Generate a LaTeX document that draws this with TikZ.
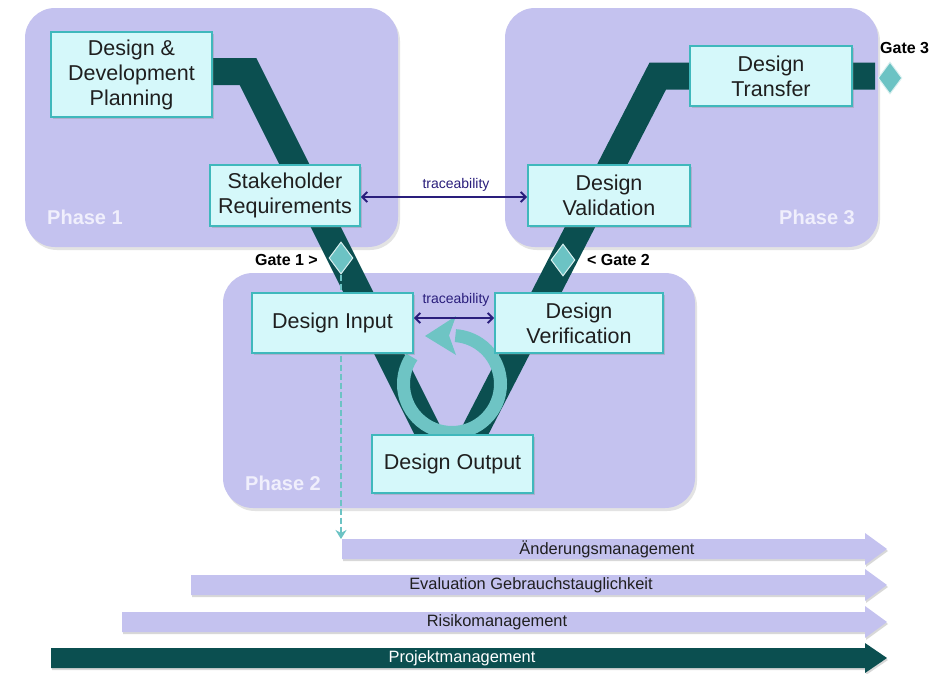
\documentclass[tikz,border=0pt]{standalone}
\usepackage{fontspec}
\setmainfont{Liberation Sans}
\usetikzlibrary{shapes.geometric,arrows.meta,shadows}

\definecolor{phasefill}{HTML}{C4C2EF}
\definecolor{boxfill}{HTML}{D5F8FA}
\definecolor{boxline}{HTML}{3FB8BC}
\definecolor{bandcol}{HTML}{0B4F50}
\definecolor{gatefill}{HTML}{6CC3C4}
\definecolor{loopcol}{HTML}{6EC4C4}
\definecolor{navy}{HTML}{2A1E7C}
\definecolor{textcol}{HTML}{1F1F1F}
\definecolor{phasetext}{HTML}{F0EFFC}

\begin{document}
\begin{tikzpicture}[x=1pt,y=-1pt,
  phase/.style={fill=phasefill, rounded corners=30pt, inner sep=0pt,
    drop shadow={shadow xshift=2pt, shadow yshift=-3pt, opacity=0.22}},
  stepbox/.style={draw=boxline, line width=1.8pt, fill=boxfill, align=center,
    inner sep=0pt, text=textcol, font=\fontsize{21.5}{25}\selectfont,
    drop shadow={shadow xshift=2pt, shadow yshift=-2pt, opacity=0.3}},
  band/.style={draw=bandcol, line width=27pt, line join=miter},
  gate/.style={diamond, fill=gatefill, draw=white!75!gatefill, line width=1pt,
    inner sep=0pt, minimum width=24pt, minimum height=32pt},
  gatelabel/.style={font=\fontsize{16}{18}\selectfont\bfseries, text=black, inner sep=0pt},
  phaselabel/.style={font=\fontsize{20}{22}\selectfont\bfseries, text=phasetext, inner sep=0pt},
  trace/.style={draw=navy, line width=2pt, {Straight Barb[length=5pt,width=10pt]}-{Straight Barb[length=5pt,width=10pt]}},
  tracelabel/.style={font=\fontsize{14}{16}\selectfont, text=navy, inner sep=0pt},
  mgmt/.style={fill=phasefill, drop shadow={shadow xshift=1pt, shadow yshift=-2pt, opacity=0.3}},
  mgmtdark/.style={fill=bandcol, drop shadow={shadow xshift=1pt, shadow yshift=-2pt, opacity=0.3}},
  mgmtlabel/.style={font=\fontsize{16.4}{18}\selectfont, text=textcol, inner sep=0pt},
  dashline/.style={draw=gatefill, line width=2.5pt, dash pattern=on 6pt off 3pt,
    -{Stealth[length=9pt,width=11pt]}}
]
\useasboundingbox (0,0) rectangle (930,673);
\fill[white] (0,0) rectangle (930,673);

% phase regions
\node[phase, minimum width=373pt, minimum height=239pt] (p1) at (211.5,127.5) {};
\node[phase, minimum width=373pt, minimum height=239pt] (p3) at (691.5,127.5) {};
\node[phase, minimum width=472pt, minimum height=235pt] (p2) at (459,390.5) {};

% the V-shaped process band
\draw[band] (205,71.5) -- (248,71.5) -- (451,477.5);
\draw[band] (451,477.5) -- (657.8,76) -- (875,76);

% gates
\node[gate] (g1) at (341,258) {};
\node[gate] (g2) at (563,260) {};
\node[gate] (g3) at (890,78) {};

% iteration loop
\draw[loopcol, line width=13pt] (452,384) ++(214:48.5) arc[start angle=214, end angle=-86, radius=48.5];
\fill[loopcol] (425,336) -- (456,316) -- (449,335.5) -- (456,355) -- cycle;

% change-management link from gate 1
\coordinate (chgtop) at (341,539);
\draw[dashline] (g1.south) -- (g1.south |- chgtop);

% process steps
\node[stepbox, minimum width=161pt, minimum height=85pt] (ddp) at (131.5,74.5) {Design \&\\Development\\Planning};
\node[stepbox, minimum width=150pt, minimum height=61pt] (stake) at (285,195.5) {Stakeholder\\Requirements};
\node[stepbox, minimum width=162pt, minimum height=61pt] (valid) at (609,195.5) {Design\\Validation};
\node[stepbox, minimum width=162pt, minimum height=60pt] (transfer) at (771,76) {Design\\Transfer};
\node[stepbox, minimum width=161pt, minimum height=60pt] (input) at (332.5,323) {Design Input};
\node[stepbox, minimum width=168pt, minimum height=60pt] (verif) at (579,323) {Design\\Verification};
\node[stepbox, minimum width=161pt, minimum height=58pt] (output) at (452.5,464) {Design Output};

% traceability links
\draw[trace] ([yshift=-1.5pt]stake.east) -- ([yshift=-1.5pt]valid.west);
\node[tracelabel] (tr1) at (456,185) {traceability};
\draw[trace] ([yshift=5pt]input.east) -- ([yshift=5pt]verif.west);
\node[tracelabel] (tr2) at (456,300) {traceability};

% gate and phase labels
\node[gatelabel, anchor=east] (g1l) at (318,260) {Gate 1 >};
\node[gatelabel, anchor=west] (g2l) at (587,260) {< Gate 2};
\node[gatelabel, anchor=west] (g3l) at (880,48) {Gate 3};
\node[phaselabel, anchor=west] (p1l) at (47,217) {Phase 1};
\node[phaselabel, anchor=east] (p3l) at (855,217) {Phase 3};
\node[phaselabel, anchor=west] (p2l) at (245,483) {Phase 2};

% accompanying management processes
\path[mgmt] (342,539) -- (865,539) -- (865,533) -- (887,549) -- (865,565) -- (865,559) -- (342,559) -- cycle;
\path[mgmt] (191,575) -- (865,575) -- (865,569) -- (887,585) -- (865,601) -- (865,595) -- (191,595) -- cycle;
\path[mgmt] (122,612) -- (865,612) -- (865,606) -- (887,622) -- (865,638) -- (865,632) -- (122,632) -- cycle;
\path[mgmtdark] (51,648) -- (865,648) -- (865,643) -- (887,658) -- (865,673) -- (865,668) -- (51,668) -- cycle;
\node[mgmtlabel] (chg) at (607,549) {Änderungsmanagement};
\node[mgmtlabel] (eval) at (531,585) {Evaluation Gebrauchstauglichkeit};
\node[mgmtlabel] (risk) at (497,622) {Risikomanagement};
\node[mgmtlabel, text=white] (proj) at (462,658) {Projektmanagement};
\end{tikzpicture}
\end{document}
